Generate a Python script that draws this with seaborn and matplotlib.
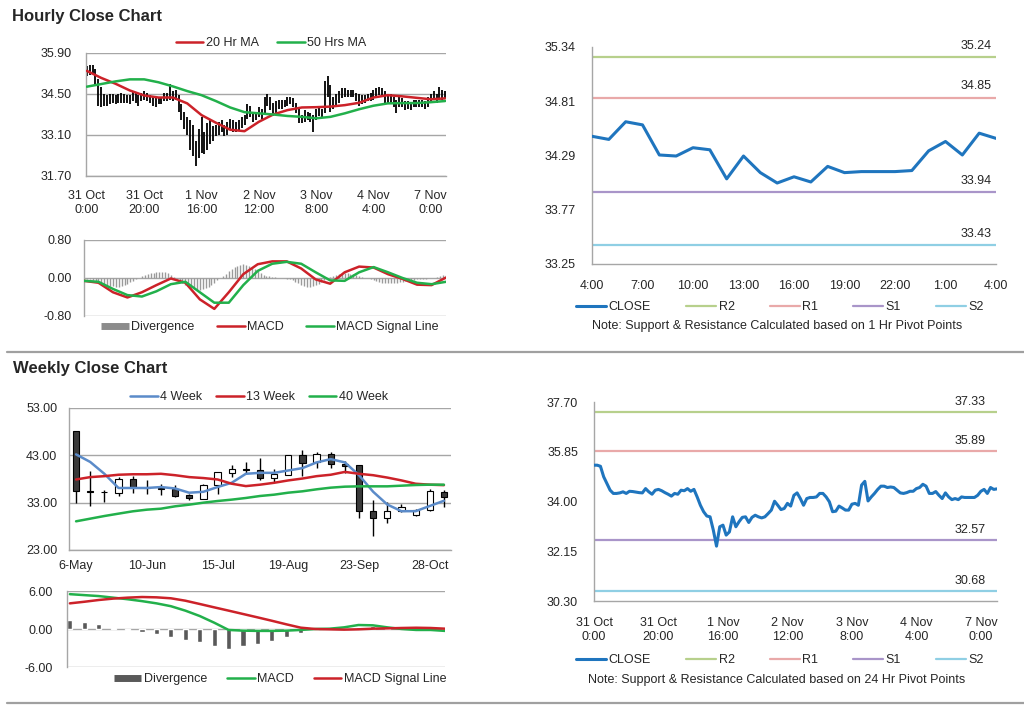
import matplotlib.pyplot as plt
import seaborn as sns
from matplotlib.lines import Line2D

# ---- hourly data (31 Oct 0:00 .. 7 Nov ~5:00, one point per hour) ----
hour_labels = ['31 Oct\n0:00', '31 Oct\n20:00', '1 Nov\n16:00', '2 Nov\n12:00',
               '3 Nov\n8:00', '4 Nov\n4:00', '7 Nov\n0:00']

close_hourly = [35.35, 35.35, 35.31, 34.92, 34.67, 34.42, 34.30, 34.30, 34.32, 34.36,
                34.30, 34.38, 34.37, 34.35, 34.33, 34.32, 34.48, 34.36, 34.27, 34.42,
                34.45, 34.40, 34.33, 34.27, 34.20, 34.30, 34.27, 34.42, 34.40, 34.48,
                34.38, 34.45, 34.17, 33.86, 33.62, 33.46, 33.43, 32.94, 32.34, 33.06,
                33.12, 32.75, 32.87, 33.43, 33.06, 33.25, 33.41, 33.43, 33.22, 33.41,
                33.49, 33.43, 33.39, 33.43, 33.55, 33.68, 34.01, 33.86, 33.70, 33.74,
                33.93, 33.83, 34.23, 34.32, 34.11, 33.86, 34.11, 34.15, 34.15, 34.17,
                34.30, 34.30, 34.17, 33.99, 33.62, 33.64, 33.83, 33.76, 33.68, 33.68,
                33.90, 33.93, 33.86, 34.61, 34.75, 34.02, 34.17, 34.30, 34.45, 34.57,
                34.57, 34.52, 34.54, 34.52, 34.42, 34.32, 34.30, 34.33, 34.38, 34.38,
                34.48, 34.52, 34.64, 34.57, 34.30, 34.30, 34.37, 34.23, 34.11, 34.32,
                34.17, 34.07, 34.11, 34.07, 34.17, 34.15, 34.15, 34.15, 34.15, 34.23,
                34.38, 34.45, 34.30, 34.52, 34.45, 34.47]

high_hourly = [35.45, 35.50, 35.50, 35.35, 35.00, 34.75, 34.50, 34.45, 34.50, 34.50,
               34.45, 34.50, 34.55, 34.50, 34.45, 34.45, 34.60, 34.55, 34.45, 34.55,
               34.60, 34.55, 34.45, 34.40, 34.35, 34.40, 34.40, 34.55, 34.55, 34.85,
               34.60, 34.65, 34.45, 34.15, 33.90, 33.70, 33.60, 33.45, 32.90, 33.30,
               33.70, 33.20, 33.50, 33.60, 33.40, 33.45, 33.55, 33.60, 33.45, 33.55,
               33.65, 33.60, 33.55, 33.60, 33.70, 33.80, 34.15, 34.10, 33.90, 33.90,
               34.05, 34.00, 34.40, 34.50, 34.40, 34.20, 34.25, 34.30, 34.30, 34.30,
               34.40, 34.40, 34.35, 34.20, 34.00, 33.80, 33.95, 33.90, 33.85, 33.80,
               34.00, 34.05, 34.00, 34.95, 35.10, 34.80, 34.40, 34.50, 34.60, 34.70,
               34.70, 34.65, 34.65, 34.65, 34.55, 34.50, 34.45, 34.45, 34.50, 34.55,
               34.65, 34.70, 34.75, 34.70, 34.60, 34.45, 34.50, 34.40, 34.30, 34.40,
               34.35, 34.25, 34.25, 34.20, 34.30, 34.30, 34.30, 34.30, 34.25, 34.40,
               34.50, 34.60, 34.50, 34.75, 34.65, 34.60]

low_hourly = [35.10, 35.15, 35.20, 34.80, 34.10, 34.05, 34.10, 34.10, 34.15, 34.20,
              34.15, 34.20, 34.20, 34.20, 34.20, 34.15, 34.25, 34.20, 34.10, 34.25,
              34.30, 34.25, 34.20, 34.10, 34.05, 34.15, 34.15, 34.25, 34.25, 34.30,
              34.25, 34.30, 33.90, 33.60, 33.30, 33.10, 32.60, 32.40, 32.05, 32.30,
              32.50, 32.45, 32.60, 32.80, 32.90, 33.05, 33.10, 33.20, 33.05, 33.10,
              33.30, 33.20, 33.20, 33.25, 33.35, 33.45, 33.65, 33.70, 33.55, 33.60,
              33.70, 33.65, 33.80, 34.10, 33.95, 33.75, 33.85, 34.00, 34.00, 34.05,
              34.10, 34.15, 34.05, 33.85, 33.50, 33.50, 33.55, 33.60, 33.55, 33.20,
              33.60, 33.75, 33.70, 33.85, 34.40, 33.90, 34.00, 34.10, 34.20, 34.35,
              34.40, 34.40, 34.40, 34.40, 34.25, 34.10, 34.15, 34.20, 34.25, 34.25,
              34.30, 34.35, 34.45, 34.40, 34.15, 34.15, 34.20, 34.05, 33.85, 34.05,
              34.05, 33.95, 34.00, 33.95, 34.05, 34.05, 34.05, 34.05, 34.00, 34.05,
              34.20, 34.30, 34.20, 34.35, 34.30, 34.35]
hours = list(range(len(close_hourly)))

# moving averages and MACD, read every 5 hours
ma_hours = list(range(0, 126, 5))
ma20 = [35.29, 35.05, 34.85, 34.62, 34.45, 34.38, 34.38, 34.18, 33.78, 33.52, 33.28, 33.23, 33.55,
        33.80, 33.95, 34.04, 34.05, 34.07, 34.12, 34.20, 34.38, 34.46, 34.42, 34.37, 34.32, 34.35]
ma50 = [34.75, 34.84, 34.93, 35.00, 35.00, 34.90, 34.76, 34.60, 34.46, 34.26, 34.04, 33.88, 33.84,
        33.80, 33.75, 33.72, 33.67, 33.72, 33.84, 33.98, 34.10, 34.18, 34.19, 34.19, 34.22, 34.26]
macd_hourly = [-0.06, -0.10, -0.30, -0.41, -0.30, -0.15, -0.01, -0.10, -0.45, -0.65, -0.30, 0.08, 0.29,
               0.35, 0.35, 0.20, -0.03, -0.12, 0.12, 0.24, 0.22, 0.08, -0.02, -0.14, -0.15, 0.01]
signal_hourly = [-0.06, -0.08, -0.23, -0.36, -0.39, -0.28, -0.13, -0.08, -0.30, -0.52, -0.52, -0.15, 0.15,
                 0.30, 0.34, 0.30, 0.12, -0.05, -0.06, 0.12, 0.23, 0.12, 0.00, -0.10, -0.13, -0.08]
div_hourly = [-0.01, -0.02, -0.03, -0.05, -0.07, -0.09, -0.11, -0.13, -0.15, -0.16,
              -0.17, -0.18, -0.18, -0.17, -0.15, -0.12, -0.09, -0.06, -0.03, 0.01,
              0.04, 0.06, 0.08, 0.10, 0.11, 0.12, 0.13, 0.13, 0.12, 0.10,
              0.07, 0.03, -0.02, -0.06, -0.10, -0.14, -0.17, -0.20, -0.23, -0.25,
              -0.25, -0.24, -0.22, -0.19, -0.15, -0.10, -0.05, -0.01, 0.04, 0.09,
              0.14, 0.19, 0.23, 0.26, 0.28, 0.29, 0.28, 0.26, 0.23, 0.19,
              0.15, 0.11, 0.07, 0.05, 0.04, 0.03, 0.02, 0.01, 0.00, -0.01,
              -0.02, -0.03, -0.05, -0.08, -0.11, -0.14, -0.16, -0.18, -0.18, -0.17,
              -0.15, -0.12, -0.08, -0.04, -0.01, 0.02, 0.04, 0.06, 0.08, 0.09,
              0.10, 0.10, 0.09, 0.08, 0.06, 0.04, 0.02, 0.01, -0.01, -0.03,
              -0.05, -0.07, -0.09, -0.10, -0.11, -0.11, -0.11, -0.10, -0.10, -0.09,
              -0.08, -0.07, -0.06, -0.05, -0.04, -0.03, -0.03, -0.02, -0.02, -0.01,
              -0.01, 0.00, 0.02, 0.04, 0.06, 0.07]

# ---- last 24 hours (1 Hr pivots) ----
day_labels = ['4:00', '7:00', '10:00', '13:00', '16:00', '19:00', '22:00', '1:00', '4:00']
close_1h = [34.48, 34.45, 34.62, 34.59, 34.30, 34.29, 34.37, 34.35, 34.07, 34.29, 34.13, 34.03, 34.09,
            34.04, 34.19, 34.13, 34.14, 34.14, 34.14, 34.15, 34.34, 34.43, 34.30, 34.51, 34.46]
pivot_names = ['R2', 'R1', 'S1', 'S2']
pivots_1h = [35.24, 34.85, 33.94, 33.43]
pivots_24h = [37.33, 35.89, 32.57, 30.68]

# ---- weekly data ----
week_labels = ['6-May', '10-Jun', '15-Jul', '19-Aug', '23-Sep', '28-Oct']
week_open = [48.1, 35.5, 35.3, 35.1, 38.1, 36.2, 36.1, 35.95, 34.6, 33.85, 36.65, 39.3, 40.2, 39.8,
             38.2, 38.9, 43.0, 41.5, 43.2, 41.2, 40.9, 31.3, 29.8, 31.2, 30.3, 31.4, 35.3]
week_close = [35.5, 35.3, 35.2, 38.1, 36.3, 36.1, 35.9, 34.4, 34.0, 36.65, 39.5, 40.2, 39.8, 38.2,
              39.1, 43.0, 41.45, 43.35, 41.2, 40.7, 31.2, 29.8, 31.3, 32.1, 31.4, 35.4, 34.2]
week_high = [48.1, 39.6, 35.6, 38.4, 38.6, 37.7, 37.0, 36.8, 34.9, 37.0, 39.5, 41.0, 41.5, 42.4,
             40.2, 43.0, 44.2, 43.6, 43.6, 41.9, 40.9, 33.5, 33.1, 32.8, 31.6, 35.8, 35.6]
week_low = [33.0, 32.3, 33.1, 34.4, 35.1, 34.9, 34.6, 34.2, 33.5, 33.7, 34.9, 38.4, 39.3, 37.7,
            37.4, 38.8, 38.6, 40.3, 40.3, 39.3, 29.8, 26.0, 28.6, 31.0, 30.2, 31.2, 32.1]
wk4 = [43.2, 41.6, 39.1, 36.1, 36.1, 36.1, 36.3, 36.0, 35.1, 35.3, 36.3, 37.2, 39.1, 39.3,
       39.3, 39.8, 40.3, 41.5, 42.2, 41.5, 38.8, 35.3, 32.6, 31.2, 31.2, 32.3, 33.4]
wk13 = [37.9, 38.4, 38.6, 38.9, 39.0, 39.0, 39.1, 38.8, 38.4, 38.2, 37.9, 37.0, 36.5, 36.8,
        37.2, 37.7, 38.1, 38.6, 38.9, 39.5, 39.1, 38.8, 38.3, 37.7, 37.0, 36.8, 36.7]
wk40 = [29.06, 29.62, 30.18, 30.68, 31.17, 31.52, 31.73, 32.23, 32.58, 33.0, 33.35, 33.64, 33.99, 34.41,
        34.69, 35.11, 35.40, 35.82, 36.17, 36.38, 36.45, 36.45, 36.45, 36.59, 36.73, 36.80, 36.80]
div_weekly = [1.5, 1.05, 0.74, 0.2, -0.15, -0.5, -0.85, -1.2, -1.75, -2.05, -2.7, -3.2, -2.75, -2.35,
              -1.9, -1.2, -0.7, -0.15, -0.05, 0.05, 0.35, 0.4, 0.2, -0.05, -0.2, -0.15, -0.3]
macd_weekly = [5.5, 5.35, 5.2, 4.95, 4.7, 4.4, 4.05, 3.6, 2.9, 2.05, 1.0, -0.15, -0.26, -0.3,
               -0.3, -0.26, -0.15, 0.0, 0.05, 0.26, 0.63, 0.58, 0.26, 0.0, -0.15, -0.15, -0.3]
signal_weekly = [4.05, 4.3, 4.58, 4.8, 4.95, 5.05, 5.0, 4.85, 4.47, 3.95, 3.42, 2.9, 2.37, 1.84,
                 1.3, 0.74, 0.21, 0.0, -0.05, -0.1, -0.05, 0.05, 0.1, 0.16, 0.2, 0.16, 0.05]
weeks = list(range(len(week_close)))

# colours
RED = '#CC2229'
GREEN = '#22B04B'
BLUE = '#5B8BC9'
CLOSE_BLUE = '#1F75BE'
GRID = '#A6A6A6'
TXT = '#262626'
pivot_colors = ['#B7D08C', '#E9A9A9', '#A995C9', '#8FCFE4']
FS = 9

W, H = 1024, 706
sns.set_style('white')
plt.rcParams['font.family'] = ['Liberation Sans', 'DejaVu Sans']

fig = plt.figure(figsize=(W / 100, H / 100), dpi=100)


def px_axes(left, top, right, bottom):
    return fig.add_axes([left / W, 1 - bottom / H, (right - left) / W, (bottom - top) / H])


def basic_style(ax, ypad, yticklen=0):
    for s in ['top', 'right']:
        ax.spines[s].set_visible(False)
    for s in ['left', 'bottom']:
        ax.spines[s].set_color(GRID)
        ax.spines[s].set_linewidth(1)
    ax.tick_params(axis='y', length=yticklen, pad=ypad, labelsize=FS, labelcolor=TXT, color=GRID)
    ax.tick_params(axis='x', labelsize=FS, labelcolor=TXT, color=GRID)


def legend_at(ax, handles, labels, cx, cy, ncol, colsp, hlen=2.2):
    ax.legend(handles, labels, loc='center', bbox_to_anchor=(cx / W, 1 - cy / H),
              bbox_transform=fig.transFigure, ncol=ncol, frameon=False, fontsize=FS,
              handlelength=hlen, handletextpad=0.2, columnspacing=colsp, borderpad=0)


def bar_handle(color):
    return Line2D([0], [0], color=color, lw=5, solid_capstyle='butt')


# ================= Hourly close chart =================
fig.text(12 / W, 1 - 16 / H, 'Hourly Close Chart', fontsize=12, fontweight='bold',
         va='center', color=TXT)

ax1 = px_axes(86, 53, 446, 176)
ax1.vlines(hours, low_hourly, high_hourly, color='black', lw=1.3, zorder=2)
sns.lineplot(x=ma_hours, y=ma20, ax=ax1, color=RED, lw=1.8, label='20 Hr MA', zorder=3)
sns.lineplot(x=ma_hours, y=ma50, ax=ax1, color=GREEN, lw=1.8, label='50 Hrs MA', zorder=3)
ax1.set_xlim(-0.3, 125.3)
ax1.set_ylim(31.70, 35.90)
ax1.set_yticks([31.70, 33.10, 34.50, 35.90])
ax1.set_yticklabels(['31.70', '33.10', '34.50', '35.90'])
ax1.set_xticks(list(range(0, 121, 20)))
ax1.set_xticklabels(hour_labels)
basic_style(ax1, ypad=10)
ax1.tick_params(axis='x', length=4, pad=6)
ax1.yaxis.grid(True, color=GRID, lw=1)
ax1.set_axisbelow(True)
h, l = ax1.get_legend_handles_labels()
legend_at(ax1, h, l, 271, 43, 2, 1.5)

ax2 = px_axes(84, 240, 446, 316)
ax2.vlines(hours, 0, div_hourly, color='#9A9A9A', lw=1.0, zorder=2)
sns.lineplot(x=ma_hours, y=macd_hourly, ax=ax2, color=RED, lw=1.8, zorder=3)
sns.lineplot(x=ma_hours, y=signal_hourly, ax=ax2, color=GREEN, lw=1.8, zorder=3)
ax2.set_xlim(0, 125)
ax2.set_ylim(-0.8, 0.8)
ax2.set_yticks([-0.8, 0.0, 0.8])
ax2.set_yticklabels(['-0.80', '0.00', '0.80'])
ax2.set_xticks([])
basic_style(ax2, ypad=9)
ax2.spines['bottom'].set_visible(False)
ax2.yaxis.grid(True, color=GRID, lw=1)
legend_at(ax2, [bar_handle('#8C8C8C'), Line2D([0], [0], color=RED, lw=1.8),
                Line2D([0], [0], color=GREEN, lw=1.8)],
          ['Divergence', 'MACD', 'MACD Signal Line'], 270, 327, 3, 1.8)


def pivot_chart(ax, xs, closes, levels, ylim, yticks, ytick_labels, xticks, xlabels,
                label_dx, label_dy, leg_y, note_y, note):
    sns.lineplot(x=xs, y=closes, ax=ax, color=CLOSE_BLUE, lw=2.2, label='CLOSE', zorder=3)
    for name, lev, col in zip(pivot_names, levels, pivot_colors):
        ax.axhline(lev, color=col, lw=1.6, label=name, zorder=2)
        ax.annotate(f'{lev:.2f}', xy=(1, lev), xycoords=('axes fraction', 'data'),
                    xytext=(label_dx, label_dy), textcoords='offset points',
                    ha='right', va='center', fontsize=FS, color=TXT)
    ax.set_xlim(xs[0], xs[-1])
    ax.set_ylim(*ylim)
    ax.set_yticks(yticks)
    ax.set_yticklabels(ytick_labels)
    ax.set_xticks(xticks)
    ax.set_xticklabels(xlabels)
    basic_style(ax, ypad=7.5, yticklen=4)
    ax.tick_params(axis='x', length=4, pad=7.5)
    hh, ll = ax.get_legend_handles_labels()
    legend_at(ax, hh, ll, 780, leg_y, 5, 2.8, 2.4)
    fig.text(777 / W, 1 - note_y / H, note, ha='center', va='center', fontsize=FS, color=TXT)


ax3 = px_axes(592, 47, 996, 264)
pivot_chart(ax3, list(range(len(close_1h))), close_1h, pivots_1h, (33.25, 35.34),
            [33.25, 33.7725, 34.295, 34.8175, 35.34], ['33.25', '33.77', '34.29', '34.81', '35.34'],
            list(range(0, 25, 3)), day_labels, -3, 8.5, 307, 326,
            'Note: Support & Resistance Calculated based on 1 Hr Pivot Points')

# ================= Weekly close chart =================
fig.text(13 / W, 1 - 369 / H, 'Weekly Close Chart', fontsize=12, fontweight='bold',
         va='center', color=TXT)

ax4 = px_axes(69, 408, 451, 550)
ax4.vlines(weeks, week_low, week_high, color='black', lw=1, zorder=2)
bottoms = [min(o, c) for o, c in zip(week_open, week_close)]
heights = [abs(c - o) for o, c in zip(week_open, week_close)]
fills = ['#3A3A3A' if c < o else 'white' for o, c in zip(week_open, week_close)]
ax4.bar(weeks, heights, bottom=bottoms, width=0.44, color=fills, edgecolor='black',
        linewidth=0.8, zorder=3)
sns.lineplot(x=weeks, y=wk4, ax=ax4, color=BLUE, lw=1.8, label='4 Week', zorder=4)
sns.lineplot(x=weeks, y=wk13, ax=ax4, color=RED, lw=1.8, label='13 Week', zorder=4)
sns.lineplot(x=weeks, y=wk40, ax=ax4, color=GREEN, lw=1.8, label='40 Week', zorder=4)
ax4.set_xlim(-0.5, 26.5)
ax4.set_ylim(23, 53)
ax4.set_yticks([23, 33, 43, 53])
ax4.set_yticklabels(['23.00', '33.00', '43.00', '53.00'])
ax4.set_xticks(list(range(0, 26, 5)))
ax4.set_xticklabels(week_labels)
ax4.set_xticks([-0.5, 4.5, 9.5, 14.5, 19.5, 24.5], minor=True)
basic_style(ax4, ypad=8.5)
ax4.tick_params(axis='x', which='major', length=0, pad=7)
ax4.tick_params(axis='x', which='minor', length=4, color=GRID)
ax4.yaxis.grid(True, color=GRID, lw=1)
ax4.set_axisbelow(True)
h, l = ax4.get_legend_handles_labels()
legend_at(ax4, h, l, 259, 397, 3, 1.1)

ax5 = px_axes(67, 591, 445, 667)
ax5.bar(weeks, div_weekly, width=0.36, color='#595959', zorder=2)
sns.lineplot(x=weeks, y=macd_weekly, ax=ax5, color=GREEN, lw=1.8, zorder=3)
sns.lineplot(x=weeks, y=signal_weekly, ax=ax5, color=RED, lw=1.8, zorder=3)
ax5.set_xlim(-0.2, 26)
ax5.set_ylim(-6, 6)
ax5.set_yticks([-6, 0, 6])
ax5.set_yticklabels(['-6.00', '0.00', '6.00'])
ax5.set_xticks([])
basic_style(ax5, ypad=10.5)
ax5.spines['bottom'].set_visible(False)
ax5.yaxis.grid(True, color=GRID, lw=1)
legend_at(ax5, [bar_handle('#595959'), Line2D([0], [0], color=GREEN, lw=1.8),
                Line2D([0], [0], color=RED, lw=1.8)],
          ['Divergence', 'MACD', 'MACD Signal Line'], 280, 679, 3, 1.6)

ax6 = px_axes(594, 402, 997, 601)
pivot_chart(ax6, hours, close_hourly, pivots_24h, (30.30, 37.70),
            [30.30, 32.15, 34.00, 35.85, 37.70], ['30.30', '32.15', '34.00', '35.85', '37.70'],
            list(range(0, 121, 20)), hour_labels, -8, 7, 660, 680,
            'Note: Support & Resistance Calculated based on 24 Hr Pivot Points')

# section separators
for y in (352, 703):
    fig.add_artist(Line2D([7 / W, 1], [1 - y / H, 1 - y / H], color='#A0A0A0', lw=1.6))

fig.savefig('out.png', dpi=100)
